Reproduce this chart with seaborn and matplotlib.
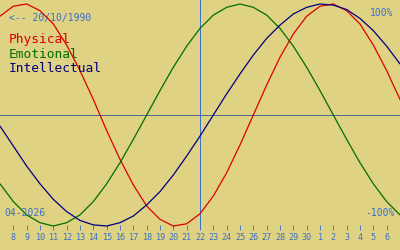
import matplotlib
matplotlib.use("Agg")
import matplotlib.pyplot as plt
import matplotlib.dates as mdates
import numpy as np
import pandas as pd
import seaborn as sns

# ---- data ----
dates = pd.date_range("2026-04-07", "2026-05-07", freq="D")
physical = [89, 98, 100, 94, 82, 63, 40, 14, -14, -40, -63, -82, -94, -100, -98, -89,
            -73, -52, -27, 0, 27, 52, 73, 89, 98, 100, 94, 82, 63, 40, 14]
emotional = [-62, -78, -90, -97, -100, -97, -90, -78, -62, -43, -22, 0, 22, 43, 62, 78,
             90, 97, 100, 97, 90, 78, 62, 43, 22, 0, -22, -43, -62, -78, -90]
intellectual = [-10, -28, -46, -62, -76, -87, -95, -99, -100, -97, -91, -81, -69, -54, -37, -19,
                0, 19, 37, 54, 69, 81, 91, 97, 100, 99, 95, 87, 76, 62, 46]
series_names = ["Physical", "Emotional", "Intellectual"]
today = pd.Timestamp("2026-04-22")
birth_label = "<-- 20/10/1990"
month_label = "04-2026"
tick_dates = pd.date_range("2026-04-08", "2026-05-06", freq="D")

df = pd.DataFrame({
    "date": list(dates) * 3,
    "value": physical + emotional + intellectual,
    "series": [n for n in series_names for _ in dates],
})

BG = "#e0d283"
RED = "#dc0000"
GREEN = "#006e00"
NAVY = "#000082"
BLUE = "#3a70c8"
palette = {"Physical": RED, "Emotional": GREEN, "Intellectual": NAVY}

sns.set_style("white")
plt.rcParams["font.family"] = ["DejaVu Sans Mono", "DejaVu Sans"]

W, H = 400, 250
fig = plt.figure(figsize=(4, 2.5), dpi=100, facecolor=BG)
ax = fig.add_axes([0, 20 / H, 1, 230 / H], facecolor=BG)

ax.axhline(0, color="#4a6a8e", lw=0.6, zorder=1, antialiased=False)
ax.axvline(today, color=BLUE, lw=0.6, zorder=1, antialiased=False)

sns.lineplot(data=df, x="date", y="value", hue="series", palette=palette,
             hue_order=series_names, lw=0.9, legend=False, ax=ax, zorder=2)

ax.set_xlim(dates[0], dates[-1])
ax.set_ylim(-103.6, 103.6)
for s in ax.spines.values():
    s.set_visible(False)
ax.set_xlabel("")
ax.set_ylabel("")
ax.set_yticks([])
ax.set_xticks(tick_dates)
ax.xaxis.set_major_formatter(mdates.DateFormatter("%-d"))
ax.tick_params(axis="x", direction="in", length=3.6, width=0.6, color=BLUE,
               labelcolor=BLUE, labelsize=6.1, pad=2.0, bottom=True)
for lab in ax.get_xticklabels():
    lab.set_family(["DejaVu Sans Mono"])

def ftxt(x, y_base, s, color, size, ha="left"):
    fig.text(x / W, 1 - y_base / H, s, color=color, fontsize=size, ha=ha,
             va="baseline", family=["DejaVu Sans Mono"])

ftxt(9, 21, birth_label, BLUE, 7)
ftxt(9, 43, series_names[0], RED, 9.3)
ftxt(9, 57.5, series_names[1], GREEN, 9.3)
ftxt(9, 72, series_names[2], NAVY, 9.3)
ftxt(393, 16, "100%", BLUE, 7, ha="right")
ftxt(395, 216, "-100%", BLUE, 7, ha="right")
ftxt(4, 216, month_label, BLUE, 7)

fig.savefig("out.png", dpi=100, facecolor=BG)
